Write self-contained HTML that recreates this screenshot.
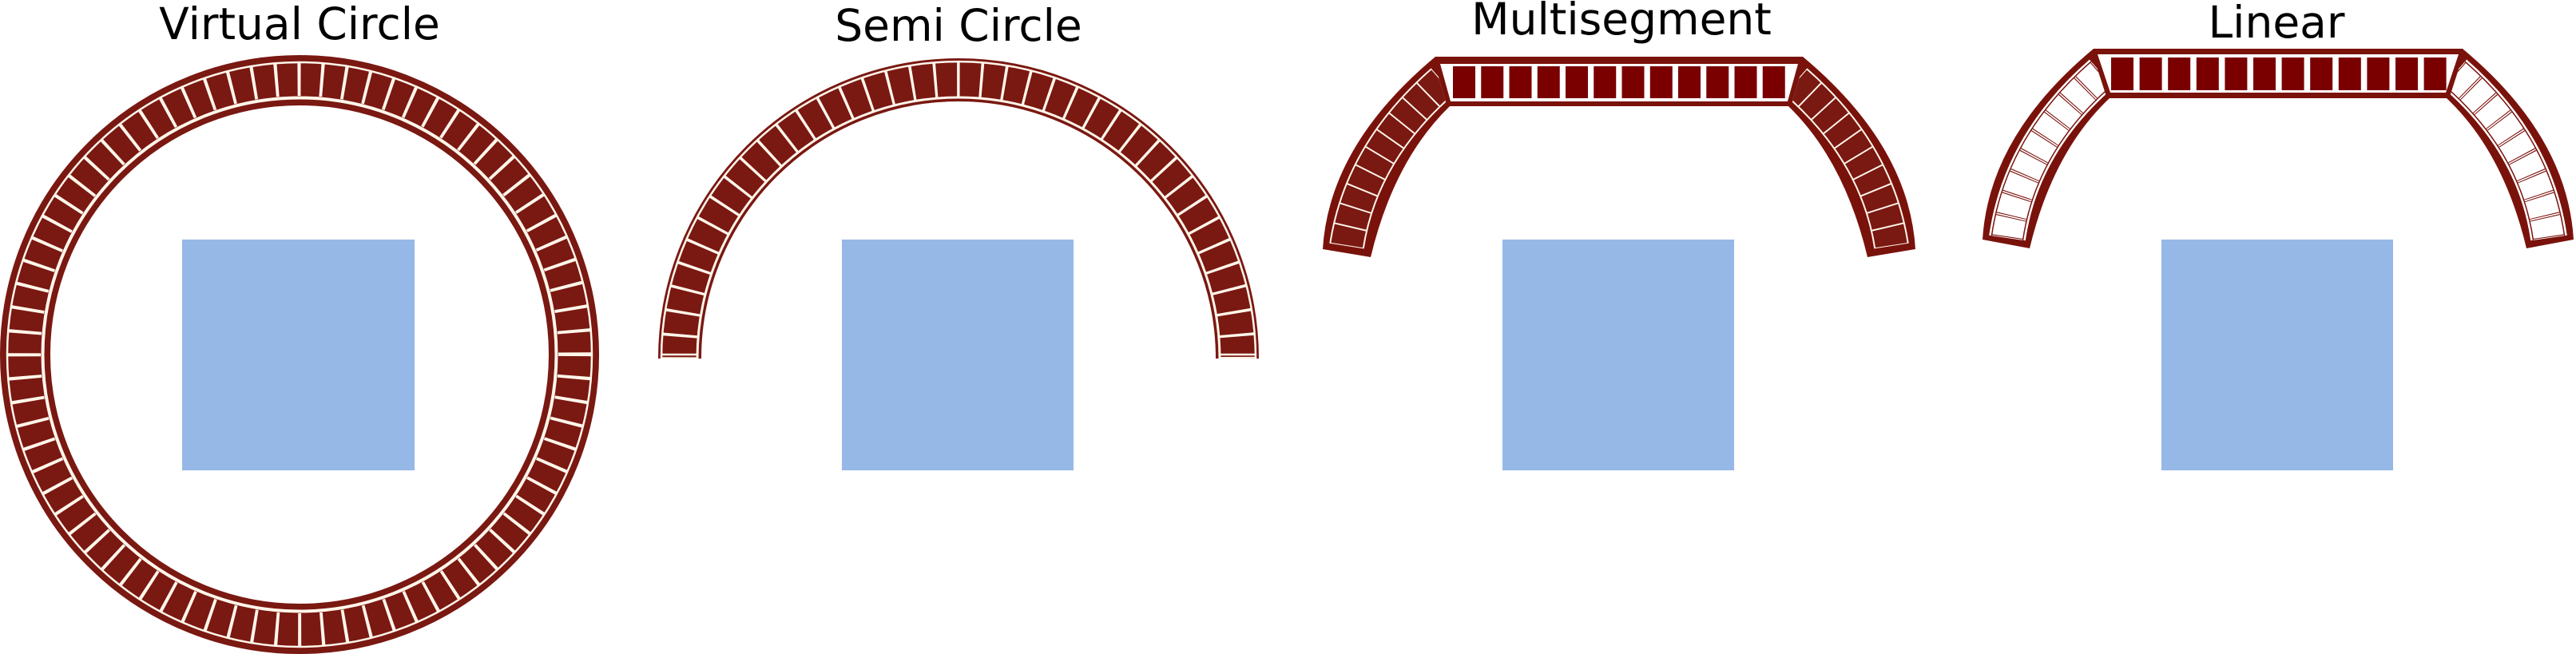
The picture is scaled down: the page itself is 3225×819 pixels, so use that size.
<!DOCTYPE html>
<html><head><meta charset="utf-8"><style>
html,body{margin:0;padding:0;background:#fff;}
svg{display:block;}
text{font-family:"DejaVu Sans","Liberation Sans",sans-serif;font-size:55px;fill:#000;text-anchor:middle;}
</style></head><body>
<svg width="3225" height="819" viewBox="0 0 3225 819" xmlns="http://www.w3.org/2000/svg">
<defs>
<clipPath id="mL"><polygon points="1500,0 1773,0 1889,400 1500,400"/></clipPath>
<clipPath id="mR"><polygon points="2554,0 2281,0 2165,400 2554,400"/></clipPath>
<clipPath id="lL"><polygon points="2300,0 2598,0 2727,400 2300,400"/></clipPath>
<clipPath id="lR"><polygon points="3404,0 3106,0 2977,400 3404,400"/></clipPath>
</defs>

<text x="375" y="49">Virtual Circle</text>
<text x="1200" y="51">Semi Circle</text>
<text x="2030" y="43">Multisegment</text>
<text x="2850" y="47">Linear</text>

<!-- Virtual circle -->
<circle cx="375" cy="444" r="343.5" fill="none" stroke="#7a1812" stroke-width="63"/>
<circle cx="375" cy="444" r="366" fill="none" stroke="#fff6ea" stroke-width="2.5"/>
<circle cx="375" cy="444" r="321.5" fill="none" stroke="#fff6ea" stroke-width="4"/>
<circle cx="375" cy="444" r="344.5" fill="none" stroke="#fff6ea" stroke-width="41" pathLength="760" stroke-dasharray="1.4 8.6" stroke-dashoffset="0.7"/>
<rect x="228" y="300" width="291" height="289" fill="#95b8e6"/>

<!-- Semi circle -->
<path d="M851 449 A349 349 0 0 1 1549 449" fill="none" stroke="#7a1812" stroke-width="54"/>
<path d="M828 449 A372 372 0 0 1 1572 449" fill="none" stroke="#fff6ea" stroke-width="2.5"/>
<path d="M873 449 A327 327 0 0 1 1527 449" fill="none" stroke="#fff6ea" stroke-width="3"/>
<path d="M850.5 449 A349.5 349.5 0 0 1 1549.5 449" fill="none" stroke="#fff6ea" stroke-width="43" pathLength="380" stroke-dasharray="1.2 8.8" stroke-dashoffset="0.6"/>
<line x1="828" y1="444" x2="874" y2="444" stroke="#fff6ea" stroke-width="2.5"/>
<line x1="1526" y1="444" x2="1572" y2="444" stroke="#fff6ea" stroke-width="2.5"/>
<rect x="1054" y="300" width="290" height="289" fill="#95b8e6"/>

<!-- Multisegment -->
<path d="M1656,312 Q1664,182 1797,71 L2257,71 Q2390,182 2398,312 L2338,322 Q2309,201 2239,133 L1815,133 Q1745,201 1716,322 Z" fill="#7a120c"/>
<g clip-path="url(#mL)" fill="none">
<path d="M1686,308 Q1704,191 1806,102" stroke="#fff6ea" stroke-width="44"/>
<path d="M1686,308 Q1704,191 1806,102" stroke="#7a1812" stroke-width="40"/>
<path d="M1686,308 Q1704,191 1806,102" stroke="#fff6ea" stroke-width="42" pathLength="100" stroke-dasharray="0.8 9.2" stroke-dashoffset="0.4"/>
</g>
<g clip-path="url(#mR)" fill="none">
<path d="M2368,308 Q2350,191 2248,102" stroke="#fff6ea" stroke-width="44"/>
<path d="M2368,308 Q2350,191 2248,102" stroke="#7a1812" stroke-width="40"/>
<path d="M2368,308 Q2350,191 2248,102" stroke="#fff6ea" stroke-width="42" pathLength="100" stroke-dasharray="0.8 9.2" stroke-dashoffset="0.4"/>
</g>
<polygon points="1803,80 2251,80 2238,127 1816,127" fill="#fff"/>
<g fill="#7a0000">
<rect x="1819" y="83" width="28" height="40"/><rect x="1854.25" y="83" width="28" height="40"/><rect x="1889.5" y="83" width="28" height="40"/><rect x="1924.75" y="83" width="28" height="40"/><rect x="1960" y="83" width="28" height="40"/><rect x="1995.25" y="83" width="28" height="40"/><rect x="2030.5" y="83" width="28" height="40"/><rect x="2065.75" y="83" width="28" height="40"/><rect x="2101" y="83" width="28" height="40"/><rect x="2136.25" y="83" width="28" height="40"/><rect x="2171.5" y="83" width="28" height="40"/><rect x="2206.75" y="83" width="28" height="40"/>
</g>
<rect x="1881" y="300" width="290" height="289" fill="#95b8e6"/>

<!-- Linear -->
<path d="M2482,300 Q2490,170 2621,61 L3083,61 Q3214,170 3222,300 L3163,311 Q3134,190 3063,123 L2641,123 Q2570,190 2541,311 Z" fill="#7a120c"/>
<g clip-path="url(#lL)" fill="none">
<path d="M2513,298 Q2530,180 2631,92" stroke="#fff" stroke-width="46"/>
<path d="M2513,298 Q2530,180 2631,92" stroke="#7a120c" stroke-width="41"/>
<path d="M2513,298 Q2530,180 2631,92" stroke="#fff" stroke-width="38"/>
<path d="M2513,298 Q2530,180 2631,92" stroke="#7a120c" stroke-width="38" pathLength="90" stroke-dasharray="1.4 8.6" stroke-dashoffset="0.7"/>
<path d="M2513,298 Q2530,180 2631,92" stroke="#fff" stroke-width="38" pathLength="90" stroke-dasharray="0.6 9.4" stroke-dashoffset="0.3"/>
</g>
<g clip-path="url(#lR)" fill="none">
<path d="M3191,298 Q3174,180 3073,92" stroke="#fff" stroke-width="46"/>
<path d="M3191,298 Q3174,180 3073,92" stroke="#7a120c" stroke-width="41"/>
<path d="M3191,298 Q3174,180 3073,92" stroke="#fff" stroke-width="38"/>
<path d="M3191,298 Q3174,180 3073,92" stroke="#7a120c" stroke-width="38" pathLength="90" stroke-dasharray="1.4 8.6" stroke-dashoffset="0.7"/>
<path d="M3191,298 Q3174,180 3073,92" stroke="#fff" stroke-width="38" pathLength="90" stroke-dasharray="0.6 9.4" stroke-dashoffset="0.3"/>
</g>
<polygon points="2626,68 3078,68 3062,116 2642,116" fill="#fff"/>
<g fill="#7a0000">
<rect x="2643" y="72" width="28" height="41"/><rect x="2678.6" y="72" width="28" height="41"/><rect x="2714.2" y="72" width="28" height="41"/><rect x="2749.8" y="72" width="28" height="41"/><rect x="2785.4" y="72" width="28" height="41"/><rect x="2821" y="72" width="28" height="41"/><rect x="2856.6" y="72" width="28" height="41"/><rect x="2892.2" y="72" width="28" height="41"/><rect x="2927.8" y="72" width="28" height="41"/><rect x="2963.4" y="72" width="28" height="41"/><rect x="2999" y="72" width="28" height="41"/><rect x="3034.6" y="72" width="28" height="41"/>
</g>
<rect x="2706" y="300" width="290" height="289" fill="#95b8e6"/>
</svg>
</body></html>
